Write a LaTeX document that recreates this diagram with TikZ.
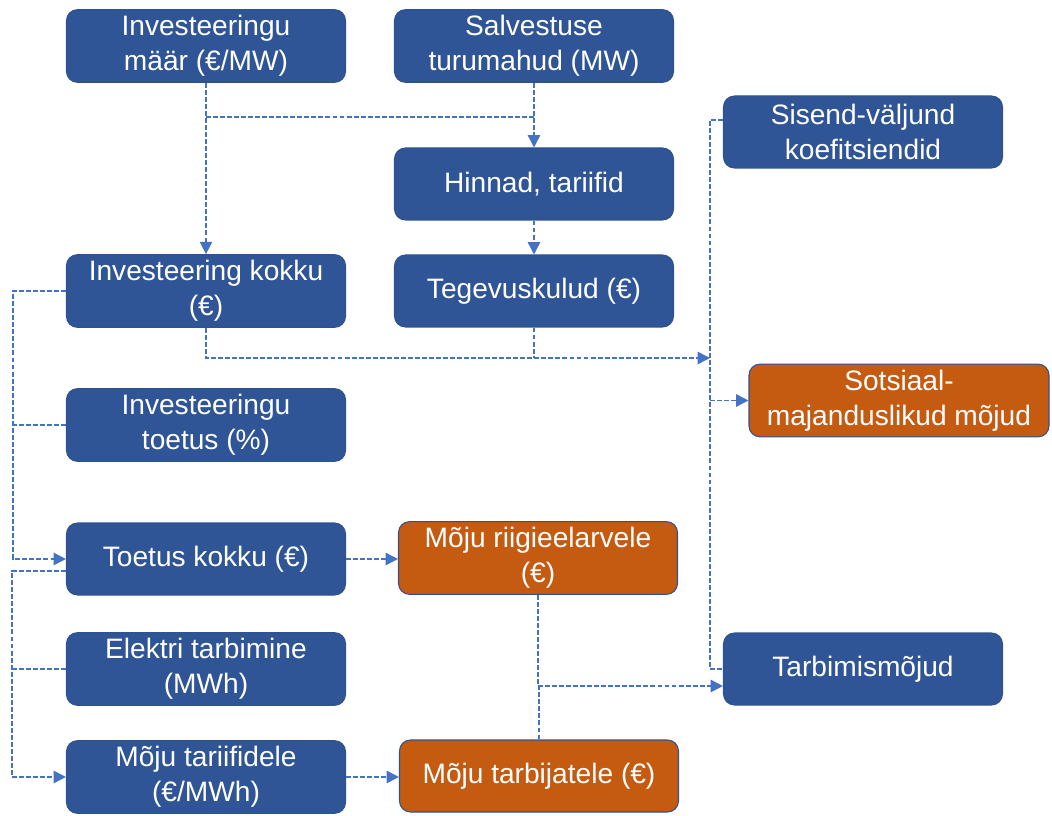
\documentclass[tikz,border=0pt]{standalone}
\usepackage{fontspec}
\setmainfont{Liberation Sans}
\usetikzlibrary{arrows.meta}
\definecolor{boxblue}{HTML}{2F5597}
\definecolor{boxorange}{HTML}{C55A11}
\definecolor{boxedge}{HTML}{2F528F}
\definecolor{linkblue}{HTML}{4472C4}

\begin{document}
\begin{tikzpicture}[
  box/.style={draw=boxedge, line width=0.6pt, fill=boxblue, rounded corners=0.22cm,
    minimum width=5.58cm, minimum height=1.44cm, align=center, text=white,
    font=\fontsize{16}{19.8}\selectfont},
  result/.style={box, fill=boxorange},
  line/.style={linkblue, line width=0.9pt, dash pattern=on 2.8pt off 1.2pt},
  link/.style={line, -{Triangle[length=7pt,width=7pt]}}
]
\useasboundingbox (0,0) rectangle (21.04,16.3);

% Boxes
\node[box] (maar) at (4.12,15.38) {Investeeringu\\määr (€/MW)};
\node[box] (turumaht) at (10.68,15.38) {Salvestuse\\turumahud (MW)};
\node[box] (sisend) at (17.26,13.66) {Sisend-väljund\\koefitsiendid};
\node[box] (hinnad) at (10.68,12.62) {Hinnad, tariifid};
\node[box] (invkokku) at (4.12,10.48) {Investeering kokku\\(€)};
\node[box] (tegevus) at (10.68,10.48) {Tegevuskulud (€)};
\node[result, minimum width=6.0cm] (sotsiaal) at (17.98,8.29) {Sotsiaal-\\majanduslikud mõjud};
\node[box] (invtoetus) at (4.12,7.8) {Investeeringu\\toetus (\%)};
\node[box] (toetus) at (4.12,5.12) {Toetus kokku (€)};
\node[result] (eelarve) at (10.76,5.14) {Mõju riigieelarvele\\(€)};
\node[box] (tarbimine) at (4.12,2.92) {Elektri tarbimine\\(MWh)};
\node[box] (tarbmoju) at (17.26,2.92) {Tarbimismõjud};
\node[box] (tariif) at (4.12,0.76) {Mõju tariifidele\\(€/MWh)};
\node[result] (tarbija) at (10.78,0.78) {Mõju tarbijatele (€)};

% Bus lines
\coordinate (rbus) at (14.2,0);
\coordinate (lbus) at (0.26,0);
\coordinate (lbus2) at (0.24,0);
\coordinate (top) at (0,13.96);
\coordinate (mid) at (0,9.14);
\coordinate (low) at (0,2.58);

% Top part
\draw[link] (maar.south) -- (invkokku.north);
\draw[link] (turumaht.south) -- (hinnad.north);
\draw[line] (maar.south |- top) -- (turumaht.south |- top);
\draw[link] (hinnad.south) -- (tegevus.north);
\draw[link] (invkokku.south) |- (rbus |- mid);
\draw[line] (tegevus.south) -- (tegevus.south |- mid);

% Right bus
\draw[line] ([yshift=0.24cm]sisend.west) -| (rbus |- tarbmoju.west) -- (tarbmoju.west);
\draw[link] (rbus |- sotsiaal.west) -- (sotsiaal.west);

% Left buses
\draw[link] (invkokku.west) -| (lbus |- toetus.west) -- (toetus.west);
\draw[line] (invtoetus.west) -- (lbus |- invtoetus.west);
\draw[link] ([yshift=-0.24cm]toetus.west) -| (lbus2 |- tariif.west) -- (tariif.west);
\draw[line] (tarbimine.west) -- (lbus2 |- tarbimine.west);

% Results
\draw[link] (toetus.east) -- (toetus.east -| eelarve.west);
\draw[link] (tariif.east) -- (tariif.east -| tarbija.west);
\draw[line] (eelarve.south) -- (eelarve.south |- low);
\draw[line] (tarbija.north) -- (tarbija.north |- low);
\draw[link] (eelarve.south |- low) -- ([yshift=-0.34cm]tarbmoju.west);
\end{tikzpicture}
\end{document}
